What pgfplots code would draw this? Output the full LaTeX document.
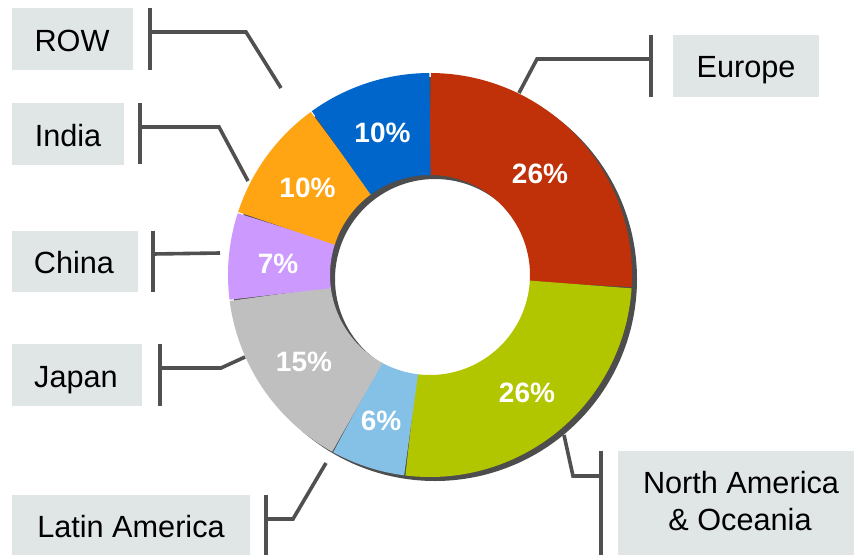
\documentclass[border=0pt]{standalone}
\usepackage{fontspec}
\setmainfont{Liberation Sans}
\usepackage{pgfplots}
\pgfplotsset{compat=1.18}
\definecolor{cEU}{HTML}{C0310A}
\definecolor{cNA}{HTML}{B2C600}
\definecolor{cLA}{HTML}{85C1E6}
\definecolor{cJP}{HTML}{BFBFBF}
\definecolor{cCN}{HTML}{CC99FF}
\definecolor{cIN}{HTML}{FFA514}
\definecolor{cRW}{HTML}{0066CC}
\definecolor{cShadow}{HTML}{4D4D4D}
\definecolor{cLead}{HTML}{505050}
\definecolor{cBox}{HTML}{E0E6E6}
\pgfplotsset{leader/.style={cLead,line width=2.7pt,mark=none,solid}}
\begin{document}
\begin{tikzpicture}
\begin{axis}[width=640.5pt,height=415.5pt,scale only axis,hide axis,
  xmin=0,xmax=854,ymin=0,ymax=554,y dir=reverse,clip=true]
\path (rel axis cs:0,0) rectangle (rel axis cs:1,1);
% shadow ring
\addplot[line width=76.5pt,color=cShadow,mark=none,domain=0:100,samples=241,variable=\p]
  ({435+151*cos(90-3.6*\p)},{279-151*sin(90-3.6*\p)});
% sectors (cumulative percent): Europe 26, North America & Oceania 26,
% Latin America 6, Japan 15, China 7, India 10, ROW 10
\addplot[line width=76.5pt,color=cEU,mark=none,domain=0:26,samples=60,variable=\p]
  ({430+151*cos(90-3.6*\p)},{275-151*sin(90-3.6*\p)});
\addplot[line width=76.5pt,color=cNA,mark=none,domain=26:52,samples=60,variable=\p]
  ({430+151*cos(90-3.6*\p)},{275-151*sin(90-3.6*\p)});
\addplot[line width=76.5pt,color=cLA,mark=none,domain=52:58,samples=20,variable=\p]
  ({430+151*cos(90-3.6*\p)},{275-151*sin(90-3.6*\p)});
\addplot[line width=76.5pt,color=cJP,mark=none,domain=58:73,samples=40,variable=\p]
  ({430+151*cos(90-3.6*\p)},{275-151*sin(90-3.6*\p)});
\addplot[line width=76.5pt,color=cCN,mark=none,domain=73:80,samples=20,variable=\p]
  ({430+151*cos(90-3.6*\p)},{275-151*sin(90-3.6*\p)});
\addplot[line width=76.5pt,color=cIN,mark=none,domain=80:90,samples=30,variable=\p]
  ({430+151*cos(90-3.6*\p)},{275-151*sin(90-3.6*\p)});
\addplot[line width=76.5pt,color=cRW,mark=none,domain=90:100,samples=30,variable=\p]
  ({430+151*cos(90-3.6*\p)},{275-151*sin(90-3.6*\p)});
% percent labels
\begin{scope}[every node/.style={font=\bfseries\fontsize{21}{24}\selectfont,text=white,anchor=base,inner sep=0pt}]
\node at (axis cs:540,183) {26\%};
\node at (axis cs:527,402) {26\%};
\node at (axis cs:381,430) {6\%};
\node at (axis cs:304,371) {15\%};
\node at (axis cs:278,273) {7\%};
\node at (axis cs:307.5,197) {10\%};
\node at (axis cs:382.5,142) {10\%};
\end{scope}
% label boxes
\fill[cBox] (axis cs:12,8) rectangle (axis cs:133,70);
\fill[cBox] (axis cs:12,103) rectangle (axis cs:124,165);
\fill[cBox] (axis cs:12,231) rectangle (axis cs:138,292);
\fill[cBox] (axis cs:12,344) rectangle (axis cs:142,406);
\fill[cBox] (axis cs:12,495) rectangle (axis cs:250,560);
\fill[cBox] (axis cs:673,35) rectangle (axis cs:819,97);
\fill[cBox] (axis cs:618,451) rectangle (axis cs:860,560);
% leader lines
\addplot[leader] coordinates {(150,8) (150,70)};
\addplot[leader] coordinates {(150,32) (246,32) (281,88)};
\addplot[leader] coordinates {(140,103) (140,164)};
\addplot[leader] coordinates {(140,127) (219,127) (248,181)};
\addplot[leader] coordinates {(153,231) (153,292)};
\addplot[leader] coordinates {(153,254) (220,253)};
\addplot[leader] coordinates {(160,344) (160,406)};
\addplot[leader] coordinates {(160,368) (221,368) (245,357)};
\addplot[leader] coordinates {(266,495) (266,560)};
\addplot[leader] coordinates {(266,519) (293,519) (326,463)};
\addplot[leader] coordinates {(651,35) (651,97)};
\addplot[leader] coordinates {(651,59) (537,59) (519,93)};
\addplot[leader] coordinates {(601,451) (601,560)};
\addplot[leader] coordinates {(601,476) (573,476) (564,435)};
% label texts
\begin{scope}[every node/.style={font=\fontsize{23}{27.75}\selectfont,text=black,anchor=base,inner sep=0pt}]
\node at (axis cs:72,51) {ROW};
\node at (axis cs:68,146) {India};
\node at (axis cs:74,273) {China};
\node at (axis cs:76,387) {Japan};
\node at (axis cs:131,537) {Latin America};
\node at (axis cs:746,77) {Europe};
\node at (axis cs:741,493) {North America};
\node at (axis cs:740,530) {\&~Oceania};
\end{scope}
\end{axis}
\end{tikzpicture}
\end{document}
